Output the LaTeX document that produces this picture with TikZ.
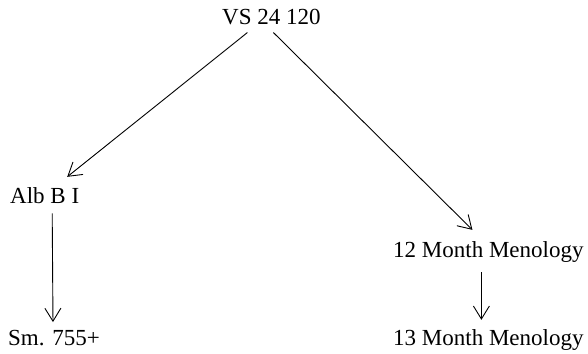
\documentclass[tikz,border=0pt]{standalone}
\usepackage{fontspec}
\setmainfont{Liberation Serif}
\usetikzlibrary{arrows.meta}
\begin{document}
\begin{tikzpicture}[x=1pt,y=-1pt,
  lbl/.style={inner sep=0pt,anchor=base west,font=\fontsize{23}{27}\selectfont},
  edge/.style={line width=0.9pt,-{Straight Barb[length=13pt,width=16pt,line width=0.9pt]}}]
\useasboundingbox (0,0) rectangle (588,353);
\node[lbl] (vs) at (222,25) {VS 24 120};
\node[lbl] (alb) at (10,203) {Alb B I};
\node[lbl] (m12) at (393,257) {12 Month Menology};
\node[lbl] (sm) at (8,345) {Sm. 755+};
\node[lbl] (m13) at (393,345) {13 Month Menology};
\draw[edge] ([xshift=-24pt,yshift=-7pt]vs.south) -- ([xshift=22.5pt,yshift=10pt]alb.north);
\draw[edge] ([xshift=2pt,yshift=-7pt]vs.south) -- ([xshift=-16pt,yshift=11pt]m12.north);
\draw[edge] ([xshift=7.5pt,yshift=-10pt]alb.south) -- ([xshift=-1pt,yshift=7.5pt]sm.north);
\draw[edge] ([xshift=-7pt,yshift=-10pt]m12.south) -- ([xshift=-7pt,yshift=9pt]m13.north);
\end{tikzpicture}
\end{document}
